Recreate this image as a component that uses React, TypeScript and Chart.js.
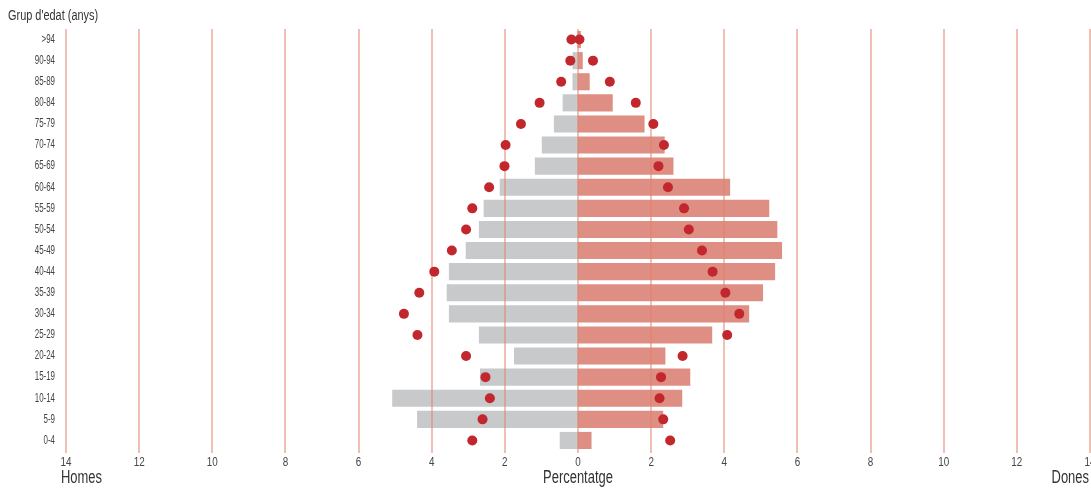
import React, { useEffect, useRef } from "react";
import { Chart, registerables } from "chart.js";

Chart.register(...registerables);

const ageGroups = [">94", "90-94", "85-89", "80-84", "75-79", "70-74", "65-69", "60-64", "55-59", "50-54", "45-49", "40-44", "35-39", "30-34", "25-29", "20-24", "15-19", "10-14", "5-9", "0-4"];

// Bars: percentage of population (men shown negative to the left)
const menBars = [0.03, 0.15, 0.15, 0.42, 0.66, 0.99, 1.18, 2.14, 2.58, 2.71, 3.07, 3.53, 3.59, 3.53, 2.71, 1.75, 2.68, 5.08, 4.4, 0.5];
const womenBars = [0.08, 0.13, 0.32, 0.95, 1.82, 2.37, 2.61, 4.16, 5.23, 5.45, 5.58, 5.39, 5.06, 4.68, 3.67, 2.39, 3.07, 2.85, 2.33, 0.37];

// Dots: reference percentages
const menDots = [0.18, 0.21, 0.46, 1.05, 1.56, 1.98, 2.01, 2.43, 2.89, 3.06, 3.45, 3.93, 4.34, 4.76, 4.39, 3.06, 2.53, 2.41, 2.61, 2.89];
const womenDots = [0.04, 0.41, 0.87, 1.58, 2.06, 2.35, 2.2, 2.46, 2.9, 3.03, 3.39, 3.68, 4.03, 4.41, 4.08, 2.86, 2.27, 2.23, 2.33, 2.52];

const xMin = -14;
const xMax = 14;
const xStep = 2;

const yTitle = "Grup d'edat (anys)";
const xTitle = "Percentatge";
const leftTitle = "Homes";
const rightTitle = "Dones";

const FONT = "'Liberation Sans', Arial, sans-serif";
const SQUEEZE = 0.74;

const GRID_COLOR = "rgba(226,130,110,0.5)";

function condensedText(ctx: any, text: string, x: number, y: number, size: number, align: string, color: string, sx = SQUEEZE) {
  ctx.save();
  ctx.font = `${size}px ${FONT}`;
  ctx.fillStyle = color;
  ctx.textAlign = align;
  ctx.textBaseline = "middle";
  ctx.translate(x, y);
  ctx.scale(sx, 1);
  ctx.fillText(text, 0, 0);
  ctx.restore();
}

function drawGrid(chart: any) {
  const { ctx, chartArea, scales } = chart;
  const xs = scales.x;
  ctx.save();
  ctx.strokeStyle = GRID_COLOR;
  ctx.lineWidth = 2;
  for (const t of xs.ticks) {
    const px = Math.round(xs.getPixelForValue(t.value));
    ctx.beginPath();
    ctx.moveTo(px, chartArea.top);
    ctx.lineTo(px, chartArea.bottom + 2);
    ctx.stroke();
  }
  ctx.restore();
}

const overlayPlugin = {
  id: "overlayGrid",
  beforeDraw(chart: any) {
    chart.$gridDone = false;
  },
  beforeDatasetDraw(chart: any, args: any) {
    if (chart.$gridDone || args.meta.type !== "line") return;
    chart.$gridDone = true;
    drawGrid(chart);
  },
  afterDatasetsDraw(chart: any) {
    if (!chart.$gridDone) {
      chart.$gridDone = true;
      drawGrid(chart);
    }
  },
  afterDraw(chart: any) {
    const { ctx, scales } = chart;
    const xs = scales.x;
    const ys = scales.y;
    for (const t of xs.ticks) {
      const px = xs.getPixelForValue(t.value);
      condensedText(ctx, String(Math.abs(Number(t.value))), px, 462, 13, "center", "#444444", 0.76);
    }
    ageGroups.forEach((lab, i) => {
      const py = ys.getPixelForValue(i);
      condensedText(ctx, lab, 55, py, 12, "right", "#444444", 0.66);
    });
    condensedText(ctx, yTitle, 8, 16, 14, "left", "#333333", 0.78);
    condensedText(ctx, leftTitle, xs.getPixelForValue(xMin) - 5, 478, 17.5, "left", "#333333");
    condensedText(ctx, xTitle, xs.getPixelForValue(0), 478, 17.5, "center", "#333333");
    condensedText(ctx, rightTitle, xs.getPixelForValue(xMax) - 1, 478, 17.5, "right", "#333333");
  },
};

export default function App() {
  const ref = useRef<HTMLCanvasElement | null>(null);

  useEffect(() => {
    if (!ref.current) return;
    const chart = new Chart(ref.current, {
      type: "bar",
      data: {
        labels: ageGroups,
        datasets: [
          {
            type: "line",
            label: "Homes (referència)",
            data: menDots.map((v) => -v),
            showLine: false,
            pointRadius: 5,
            pointHoverRadius: 5,
            pointBackgroundColor: "#c1272d",
            pointBorderColor: "#c1272d",
            pointBorderWidth: 0,
            order: 1,
          } as any,
          {
            type: "line",
            label: "Dones (referència)",
            data: womenDots,
            showLine: false,
            pointRadius: 5,
            pointHoverRadius: 5,
            pointBackgroundColor: "#c1272d",
            pointBorderColor: "#c1272d",
            pointBorderWidth: 0,
            order: 1,
          } as any,
          {
            label: "Homes",
            data: menBars.map((v) => -v),
            backgroundColor: "#c8c9cb",
            grouped: false,
            barPercentage: 0.81,
            categoryPercentage: 1,
            order: 2,
          } as any,
          {
            label: "Dones",
            data: womenBars,
            backgroundColor: "#de8e82",
            grouped: false,
            barPercentage: 0.81,
            categoryPercentage: 1,
            order: 2,
          } as any,
        ],
      },
      options: {
        indexAxis: "y",
        animation: false,
        responsive: false,
        maintainAspectRatio: false,
        layout: { autoPadding: false, padding: { top: 29, left: 0, right: 1, bottom: 0 } },
        plugins: {
          legend: { display: false },
          tooltip: { enabled: false },
          title: { display: false },
        },
        scales: {
          x: {
            type: "linear",
            min: xMin,
            max: xMax,
            border: { display: false },
            grid: { display: false, drawTicks: false },
            ticks: {
              display: false,
              stepSize: xStep,
              autoSkip: false,
            },
            afterFit: (axis: any) => {
              axis.height = 37;
              axis.paddingLeft = 0;
              axis.paddingRight = 0;
            },
          },
          y: {
            type: "category",
            border: { display: false },
            grid: { display: false, drawTicks: false },
            ticks: { display: false, autoSkip: false },
            afterFit: (axis: any) => {
              axis.width = 66;
              axis.paddingTop = 0;
              axis.paddingBottom = 0;
            },
          },
        },
      },
      plugins: [overlayPlugin],
    });
    return () => chart.destroy();
  }, []);

  return (
    <div style={{ position: "fixed", left: 0, top: 0, width: 1091, height: 488, background: "#ffffff" }}>
      <canvas ref={ref} width={1091} height={488} style={{ display: "block", width: 1091, height: 488 }} />
    </div>
  );
}
